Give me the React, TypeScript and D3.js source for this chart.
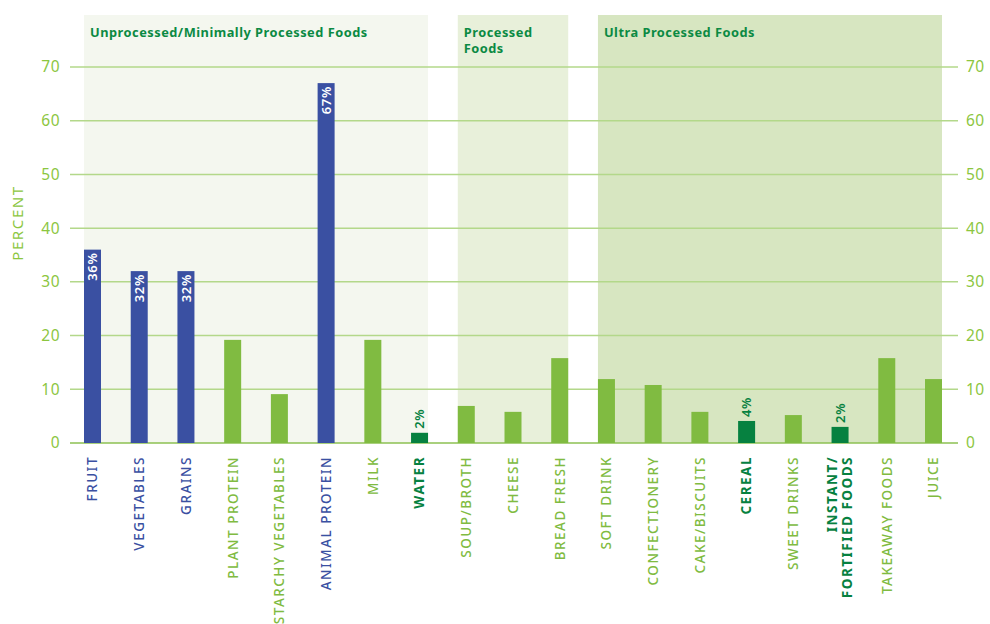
import React from "react";
import * as d3 from "d3";

const categories = [
  "FRUIT", "VEGETABLES", "GRAINS", "PLANT PROTEIN", "STARCHY VEGETABLES", "ANIMAL PROTEIN", "MILK", "WATER",
  "SOUP/BROTH", "CHEESE", "BREAD FRESH",
  "SOFT DRINK", "CONFECTIONERY", "CAKE/BISCUITS", "CEREAL", "SWEET DRINKS", "INSTANT/|FORTIFIED FOODS", "TAKEAWAY FOODS", "JUICE",
];
const values = [36, 32, 32, 19.2, 9.1, 67, 19.2, 1.9, 6.9, 5.8, 15.8, 11.9, 10.8, 5.8, 4.1, 5.2, 3.0, 15.8, 11.9];
const kinds = ["blue", "blue", "blue", "light", "light", "blue", "light", "dark", "light", "light", "light",
  "light", "light", "light", "dark", "light", "dark", "light", "light"];
const valueLabels = ["36%", "32%", "32%", "", "", "67%", "", "2%", "", "", "", "", "", "", "4%", "", "2%", "", ""];
const groupNames = ["Unprocessed/Minimally Processed Foods", "Processed|Foods", "Ultra Processed Foods"];
const groupStart = [0, 8, 11];
const groupEnd = [7, 10, 18];
const groupFills = ["#f4f7ef", "#e8f0da", "#d7e6c1"];
const yTicks = [0, 10, 20, 30, 40, 50, 60, 70];

const colors: Record<string, string> = { blue: "#3a50a2", light: "#80bb41", dark: "#068140" };
const tickColor = "#8cc63f";
const font = "'Noto Sans', sans-serif";

export default function App() {
  const W = 990, H = 624;
  const x = d3.scalePoint<string>().domain(categories).range([92.5, 933.5]);
  const y = d3.scaleLinear().domain([0, 70]).range([443, 67]);
  const bw = 17;
  const gridX0 = 70, gridX1 = 958;
  return (
    <svg width={W} height={H} style={{ position: "absolute", left: 0, top: 0, background: "#fff" }}>
      {groupNames.map((g, i) => {
        const x0 = (x(categories[groupStart[i]]) as number) - bw / 2;
        const x1 = (x(categories[groupEnd[i]]) as number) + bw / 2;
        return (
          <g key={g}>
            <rect x={x0} y={15} width={x1 - x0} height={y(0) - 15} fill={groupFills[i]} />
            {g.split("|").map((line, j) => (
              <text key={j} x={x0 + 6} y={37 + j * 16} fill="#0b8a43" fontFamily={font} fontWeight={700} fontSize={12.8} letterSpacing={0.5}>
                {line}
              </text>
            ))}
          </g>
        );
      })}
      {yTicks.map((t) => (
        <g key={t}>
          <line x1={gridX0} x2={gridX1} y1={y(t)} y2={y(t)} stroke={t === 0 ? "#8cc152" : "#b3d88a"} strokeWidth={1.5} />
          <text x={60} y={y(t)} dy="0.35em" textAnchor="end" fill={tickColor} fontFamily={font} fontSize={15.5} letterSpacing={0.5}>{t}</text>
          <text x={966} y={y(t)} dy="0.35em" textAnchor="start" fill={tickColor} fontFamily={font} fontSize={15.5} letterSpacing={0.5}>{t}</text>
        </g>
      ))}
      <text transform={`translate(23,223) rotate(-90)`} textAnchor="middle" fill={tickColor} fontFamily={font} fontSize={15} letterSpacing={1.6}>PERCENT</text>
      {categories.map((c, i) => {
        const cx = x(c) as number;
        const top = y(values[i]);
        const col = colors[kinds[i]];
        const lbl = valueLabels[i];
        const lines = c.split("|");
        return (
          <g key={c}>
            <rect x={cx - bw / 2} y={top} width={bw} height={y(0) - top} fill={col} />
            {lbl && kinds[i] === "blue" && (
              <text transform={`translate(${cx},${top + 3}) rotate(-90)`} dy="0.36em" textAnchor="end" fill="#fff" fontFamily={font} fontWeight={600} fontSize={13} letterSpacing={0.6}>{lbl}</text>
            )}
            {lbl && kinds[i] !== "blue" && (
              <text transform={`translate(${cx},${top - 4}) rotate(-90)`} dy="0.36em" textAnchor="start" fill={col} fontFamily={font} fontWeight={600} fontSize={13} letterSpacing={0.6}>{lbl}</text>
            )}
            {lines.map((ln, j) => (
              <text key={j}
                transform={`translate(${cx + (j - (lines.length - 1) / 2) * 15},456) rotate(-90)`}
                dy="0.36em" textAnchor="end" fill={col} fontFamily={font}
                fontWeight={kinds[i] === "dark" ? 700 : 500} fontSize={13.5} letterSpacing={1.5}>{ln}</text>
            ))}
          </g>
        );
      })}
    </svg>
  );
}
